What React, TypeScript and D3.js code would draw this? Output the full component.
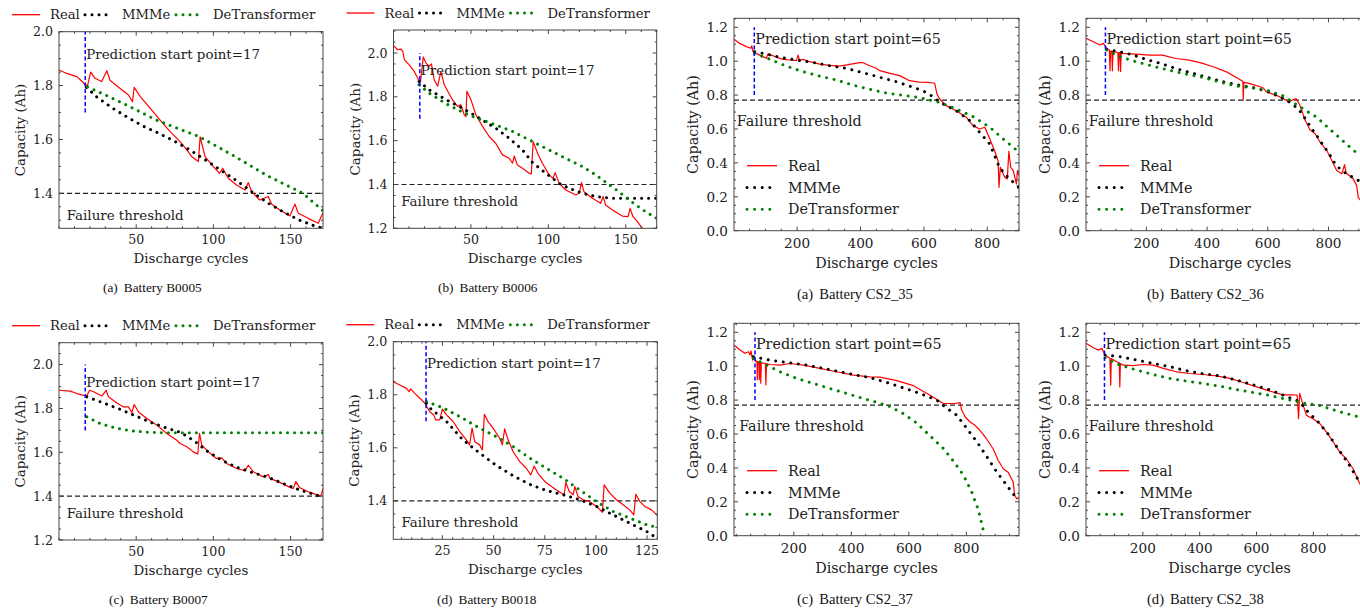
import React from 'react';
import * as d3 from 'd3';

type Pt = [number, number];

// ---- NASA batteries (cycle, capacity Ah) ----
const b0005Real: Pt[] = [[0,1.858],[5,1.845],[11.6,1.833],[15,1.815],[17,1.803],[18.5,1.80],[20.5,1.85],[23.3,1.827],[27.6,1.815],[31,1.855],[33,1.82],[39.4,1.79],[45,1.765],[47.6,1.74],[48.7,1.793],[52.6,1.759],[59,1.716],[65.5,1.672],[72,1.629],[78.4,1.592],[82.8,1.561],[86,1.536],[90.3,1.518],[91.4,1.61],[94.6,1.536],[100,1.499],[104,1.474],[106,1.493],[109.7,1.456],[115,1.431],[120.5,1.412],[122.6,1.44],[124.8,1.406],[130,1.375],[135.5,1.388],[137.7,1.36],[143,1.338],[149.6,1.316],[152.8,1.36],[155,1.326],[161.4,1.307],[167.9,1.289],[171,1.328]];
const b0005Mmme: Pt[] = [[17.7,1.793],[25,1.755],[35,1.715],[45,1.68],[55,1.648],[65,1.622],[75,1.593],[85,1.56],[95,1.523],[105,1.485],[115,1.447],[125,1.405],[135,1.365],[145,1.332],[155,1.302],[165,1.28],[171,1.27]];
const b0005Detr: Pt[] = [[18.5,1.795],[30,1.765],[40,1.738],[50,1.71],[63,1.672],[75,1.645],[91,1.61],[113,1.54],[135,1.465],[158,1.40],[171,1.335]];

const b0006Real: Pt[] = [[0,2.034],[2.7,2.015],[4.8,2.018],[6,2.008],[7,1.97],[10,1.947],[13.4,1.916],[16.2,1.878],[17.5,1.87],[19.2,1.982],[21,1.954],[23,1.94],[24.5,1.95],[26.3,1.878],[28.5,1.848],[30.6,1.916],[32.8,1.855],[38,1.787],[41.4,1.756],[43.5,1.764],[45.7,1.718],[46.8,1.71],[47.4,1.825],[50,1.787],[53.2,1.718],[57.5,1.665],[61.8,1.619],[66,1.588],[70.4,1.535],[74.7,1.52],[76.9,1.497],[78,1.53],[80,1.489],[83.3,1.474],[87.6,1.451],[89,1.448],[90.2,1.596],[93,1.543],[96.2,1.497],[100.5,1.444],[103,1.428],[104.4,1.454],[107,1.405],[111.3,1.375],[117.7,1.352],[120,1.36],[121.4,1.409],[123,1.367],[128.5,1.337],[133.8,1.314],[135.4,1.345],[137,1.306],[141.4,1.284],[147.8,1.256],[151.5,1.253],[152.8,1.291],[154.7,1.253],[157.5,1.23],[160.8,1.2],[163,1.18]];
const b0006Mmme: Pt[] = [[16.5,1.87],[23,1.832],[34,1.787],[44.6,1.748],[55.4,1.703],[66,1.657],[74.7,1.611],[83.3,1.558],[89.8,1.50],[98.4,1.451],[107,1.405],[113.4,1.383],[122,1.36],[130.6,1.345],[141.4,1.337],[152,1.337],[170,1.337]];
const b0006Detr: Pt[] = [[16.5,1.855],[23,1.817],[34,1.768],[44.6,1.73],[53,1.705],[66,1.672],[76.9,1.642],[87.6,1.604],[98.4,1.565],[109,1.527],[122,1.482],[130.6,1.444],[139,1.40],[145.6,1.367],[152,1.33],[160.8,1.285],[170,1.245]];

const b0007Real: Pt[] = [[0,1.883],[7.3,1.879],[11.6,1.868],[16,1.86],[18,1.857],[19.8,1.883],[22.4,1.876],[27.8,1.857],[30.6,1.883],[32,1.853],[37.5,1.825],[41.8,1.807],[45,1.807],[47.2,1.781],[48.7,1.818],[51.5,1.784],[56.9,1.754],[63.4,1.724],[69.8,1.686],[76.3,1.655],[78.4,1.64],[82.8,1.625],[87,1.602],[89.9,1.592],[91,1.686],[92.5,1.633],[96.8,1.602],[102,1.572],[105.4,1.575],[108.6,1.549],[115,1.526],[120.5,1.516],[122.6,1.541],[125.9,1.511],[132.3,1.488],[135.6,1.499],[136.6,1.481],[143,1.463],[149.6,1.44],[151.7,1.435],[153.4,1.466],[156,1.438],[162.5,1.417],[167.9,1.405],[169.6,1.40],[171,1.435]];
const b0007Mmme: Pt[] = [[18,1.853],[30,1.822],[40,1.795],[50,1.765],[60,1.735],[70,1.71],[79,1.69],[88,1.65],[96,1.605],[105,1.565],[115,1.532],[125,1.508],[135,1.487],[145,1.458],[156,1.428],[169,1.40]];
const b0007Detr: Pt[] = [[18,1.762],[26.7,1.731],[37.5,1.709],[48.3,1.697],[59,1.691],[70,1.689],[171,1.689]];

const b0018Real: Pt[] = [[1,1.849],[4.2,1.837],[7.4,1.824],[8.7,1.812],[9.5,1.822],[11.5,1.805],[14,1.787],[16.4,1.768],[18.8,1.736],[20.8,1.724],[21.7,1.705],[23.7,1.705],[25,1.746],[27,1.724],[30.2,1.699],[33.5,1.661],[36.7,1.63],[38.3,1.611],[39.5,1.674],[40.8,1.623],[43.2,1.611],[44.5,1.592],[45.5,1.726],[47.3,1.699],[49.7,1.674],[53,1.636],[54.3,1.611],[55.4,1.671],[57.1,1.63],[59.5,1.586],[62.8,1.548],[66,1.523],[68.2,1.498],[69.8,1.531],[71.7,1.504],[75,1.473],[78.3,1.454],[80.7,1.441],[83.2,1.429],[84.5,1.423],[85.3,1.469],[87,1.435],[88.9,1.423],[89.7,1.454],[91.3,1.416],[93.7,1.404],[97,1.397],[100.3,1.379],[103.2,1.357],[104,1.46],[106.8,1.429],[110,1.404],[113.3,1.385],[116.5,1.366],[118.5,1.347],[119.5,1.425],[121.5,1.397],[123.9,1.379],[127.2,1.366],[130,1.345]];
const b0018Mmme: Pt[] = [[17.2,1.768],[19,1.749],[27,1.699],[35,1.63],[43.2,1.58],[51.4,1.533],[59.5,1.495],[67.7,1.462],[75.8,1.439],[84,1.423],[92.1,1.404],[100.3,1.379],[108.4,1.347],[116.5,1.316],[124.7,1.285],[130,1.258]];
const b0018Detr: Pt[] = [[17.2,1.774],[25.3,1.751],[35,1.711],[43.2,1.674],[51.4,1.642],[59.5,1.605],[67.7,1.561],[75.8,1.523],[84,1.485],[92.1,1.441],[100.3,1.397],[108.4,1.36],[116.5,1.335],[124.7,1.31],[130,1.30]];

// ---- CALCE batteries ----
const cs35Real: Pt[] = [[1,1.129],[19,1.105],[40,1.086],[54,1.076],[57,1.091],[61,1.056],[71,1.046],[92,1.027],[103,1.017],[108,1.042],[114,1.04],[135,1.023],[156,1.011],[177,1.007],[198,1.003],[203,1.036],[208,1.005],[219,1.011],[240,0.997],[271,0.983],[303,0.975],[334,0.971],[366,0.981],[397,0.991],[408,0.991],[429,0.973],[450,0.958],[461,0.944],[490,0.93],[524,0.915],[555,0.885],[585,0.877],[613,0.875],[634,0.87],[641,0.807],[650,0.777],[670,0.738],[702,0.708],[734,0.669],[755,0.62],[776,0.60],[792,0.61],[808,0.541],[823,0.472],[834,0.413],[837,0.256],[841,0.374],[855,0.315],[863,0.305],[868,0.468],[874,0.374],[882,0.354],[892,0.275],[895,0.354],[900,0.325]];
const cs35Mmme: Pt[] = [[66,1.056],[103,1.042],[145,1.023],[198,1.007],[250,0.993],[303,0.973],[355,0.958],[408,0.932],[461,0.905],[513,0.879],[555,0.853],[597,0.826],[632,0.787],[650,0.757],[671,0.738],[702,0.708],[745,0.649],[776,0.58],[808,0.511],[834,0.393],[850,0.344],[871,0.305],[900,0.256]];
const cs35Detr: Pt[] = [[66,1.046],[114,1.011],[166,0.971],[219,0.938],[271,0.912],[324,0.889],[376,0.859],[429,0.834],[482,0.812],[530,0.80],[587,0.785],[650,0.757],[702,0.718],[755,0.673],[808,0.61],[850,0.541],[882,0.492],[900,0.462]];

const cs36Real: Pt[] = [[1,1.135],[25,1.115],[47,1.095],[58,1.105],[69,1.076],[78,1.066],[80,0.943],[82,1.06],[86,1.06],[88,0.943],[90,1.058],[106,1.05],[108,0.943],[110,1.05],[113,1.05],[115,0.94],[117,1.048],[121,1.046],[165,1.042],[209,1.036],[253,1.036],[297,1.016],[341,1.006],[380,0.99],[420,0.967],[464,0.937],[508,0.892],[518,0.88],[519,0.77],[521,0.875],[541,0.868],[583,0.845],[596,0.819],[627,0.80],[651,0.78],[668,0.76],[693,0.78],[706,0.74],[723,0.651],[739,0.595],[756,0.572],[772,0.523],[794,0.474],[811,0.414],[827,0.355],[844,0.336],[853,0.39],[858,0.34],[880,0.31],[893,0.266],[898,0.197],[905,0.18]];
const cs36Mmme: Pt[] = [[69,1.07],[100,1.06],[150,1.04],[200,1.01],[250,0.985],[300,0.955],[350,0.93],[400,0.905],[450,0.88],[500,0.86],[550,0.845],[600,0.82],[640,0.79],[670,0.76],[700,0.72],[720,0.67],[740,0.615],[760,0.565],[780,0.51],[800,0.46],[820,0.40],[840,0.36],[860,0.335],[880,0.315],[905,0.29]];
const cs36Detr: Pt[] = [[69,1.066],[113,1.026],[165,0.997],[220,0.971],[275,0.947],[330,0.924],[385,0.905],[440,0.878],[495,0.853],[541,0.845],[596,0.829],[651,0.795],[706,0.73],[760,0.671],[810,0.59],[860,0.51],[905,0.44]];

const cs37Real: Pt[] = [[-8,1.125],[13,1.095],[30,1.076],[42,1.085],[48,1.066],[51,1.09],[57,1.036],[62,1.056],[68,1.026],[72,1.03],[73,0.92],[75,1.025],[79,1.025],[80,0.92],[82,1.02],[84,1.02],[85,0.90],[87,1.02],[101,1.015],[103,0.89],[105,1.015],[117,1.01],[152,1.006],[187,1.016],[233,1.006],[291,0.987],[349,0.967],[407,0.947],[465,0.937],[500,0.935],[558,0.915],[616,0.885],[674,0.829],[720,0.78],[761,0.78],[778,0.785],[784,0.74],[796,0.70],[813,0.671],[830,0.651],[847,0.622],[870,0.572],[893,0.513],[911,0.444],[928,0.395],[945,0.375],[957,0.336],[963,0.316],[968,0.237],[976,0.217],[983,0.227]];
const cs37Mmme: Pt[] = [[59,1.056],[117,1.036],[175,1.022],[233,1.01],[291,0.991],[349,0.971],[407,0.951],[465,0.932],[523,0.904],[581,0.872],[639,0.839],[697,0.80],[732,0.752],[767,0.71],[802,0.632],[837,0.553],[872,0.464],[906,0.375],[941,0.296],[976,0.217]];
const cs37Detr: Pt[] = [[59,1.046],[106,1.006],[152,0.967],[210,0.928],[268,0.898],[326,0.868],[384,0.839],[442,0.809],[488,0.787],[534,0.762],[581,0.72],[627,0.665],[673,0.59],[720,0.515],[755,0.44],[789,0.36],[818,0.26],[842,0.15],[855,0.06],[863,0.0]];

const cs38Real: Pt[] = [[0,1.135],[26,1.109],[44,1.095],[55.6,1.105],[67,1.066],[84,1.046],[87,0.888],[89,1.045],[108,1.026],[117,1.02],[119,0.878],[121,1.015],[131,1.006],[166,1.003],[201,1.01],[236,1.006],[272,0.987],[319,0.967],[365,0.957],[412,0.951],[459,0.943],[506,0.928],[553,0.904],[600,0.878],[647,0.853],[693,0.831],[729,0.831],[743,0.83],[748,0.69],[752,0.84],[764,0.77],[776,0.71],[799,0.69],[823,0.661],[846,0.612],[870,0.553],[893,0.493],[916,0.454],[940,0.395],[961,0.316],[970,0.29]];
const cs38Mmme: Pt[] = [[67,1.066],[120,1.056],[178,1.036],[236,1.016],[295,0.997],[354,0.973],[412,0.955],[471,0.943],[529,0.918],[588,0.89],[647,0.86],[705,0.822],[752,0.79],[781,0.73],[817,0.671],[852,0.60],[887,0.513],[922,0.43],[952,0.345],[970,0.3]];
const cs38Detr: Pt[] = [[67,1.05],[120,1.006],[178,0.977],[236,0.951],[295,0.928],[354,0.912],[412,0.898],[471,0.882],[529,0.862],[588,0.845],[647,0.827],[705,0.805],[764,0.783],[822,0.768],[881,0.737],[940,0.71],[970,0.696]];

const seriesNames = ['Real', 'MMMe', 'DeTransformer'];
const nasaYTicksA = [1.4, 1.6, 1.8, 2.0];
const nasaYTicksB = [1.2, 1.4, 1.6, 1.8, 2.0];
const nasaXTicks = [50, 100, 150];
const b0018XTicks = [25, 50, 75, 100, 125];
const calceXTicks = [200, 400, 600, 800];
const calceYTicks = [0, 0.2, 0.4, 0.6, 0.8, 1.0, 1.2];

type Side = 'left' | 'right';
interface Spec {
  left: number; top: number; width: number; height: number;
  xDomain: [number, number]; yDomain: [number, number];
  xTicks: number[]; xMinor: number; yTicks: number[]; yMinor: number;
  real: Pt[]; mmme: Pt[]; detr: Pt[];
  start: number; vspan: [number, number]; startY: number;
  threshold: number; thrText: Pt;
  side: Side; tag: string; name: string; capX: number; capY: number;
}

const specs: Spec[] = [
  { left: 59, top: 31.7, width: 264, height: 196.6, xDomain: [0, 171], yDomain: [1.27, 2.0], xTicks: nasaXTicks, xMinor: 10, yTicks: nasaYTicksA, yMinor: 0.05,
    real: b0005Real, mmme: b0005Mmme, detr: b0005Detr, start: 17, vspan: [1.7, 2.0], startY: 1.9, threshold: 1.4, thrText: [5, 1.3],
    side: 'left', tag: '(a)', name: 'Battery B0005', capX: 103, capY: 287 },
  { left: 393.5, top: 30, width: 263.2, height: 198.3, xDomain: [0, 170], yDomain: [1.2, 2.105], xTicks: nasaXTicks, xMinor: 10, yTicks: nasaYTicksB, yMinor: 0.05,
    real: b0006Real, mmme: b0006Mmme, detr: b0006Detr, start: 17, vspan: [1.7, 2.0], startY: 1.9, threshold: 1.4, thrText: [5, 1.3],
    side: 'left', tag: '(b)', name: 'Battery B0006', capX: 438, capY: 287 },
  { left: 59, top: 342.7, width: 264, height: 197.3, xDomain: [0, 171], yDomain: [1.2, 2.1], xTicks: nasaXTicks, xMinor: 10, yTicks: nasaYTicksB, yMinor: 0.05,
    real: b0007Real, mmme: b0007Mmme, detr: b0007Detr, start: 17, vspan: [1.7, 2.0], startY: 1.9, threshold: 1.4, thrText: [5, 1.3],
    side: 'left', tag: '(c)', name: 'Battery B0007', capX: 109, capY: 599 },
  { left: 393.3, top: 341.7, width: 264, height: 197.6, xDomain: [1, 130], yDomain: [1.255, 2.0], xTicks: b0018XTicks, xMinor: 5, yTicks: nasaYTicksA, yMinor: 0.05,
    real: b0018Real, mmme: b0018Mmme, detr: b0018Detr, start: 17, vspan: [1.7, 2.0], startY: 1.9, threshold: 1.4, thrText: [5, 1.3],
    side: 'left', tag: '(d)', name: 'Battery B0018', capX: 437, capY: 599 },
  { left: 734, top: 18.3, width: 285, height: 212.4, xDomain: [1, 900], yDomain: [0, 1.253], xTicks: calceXTicks, xMinor: 50, yTicks: calceYTicks, yMinor: 0.05,
    real: cs35Real, mmme: cs35Mmme, detr: cs35Detr, start: 65, vspan: [0.8, 1.2], startY: 1.1, threshold: 0.77, thrText: [10, 0.62],
    side: 'right', tag: '(a)', name: 'Battery CS2_35', capX: 797, capY: 294 },
  { left: 1086, top: 18.3, width: 288, height: 212.4, xDomain: [1, 950], yDomain: [0, 1.253], xTicks: calceXTicks, xMinor: 50, yTicks: calceYTicks, yMinor: 0.05,
    real: cs36Real, mmme: cs36Mmme, detr: cs36Detr, start: 65, vspan: [0.8, 1.2], startY: 1.1, threshold: 0.77, thrText: [10, 0.62],
    side: 'right', tag: '(b)', name: 'Battery CS2_36', capX: 1147, capY: 294 },
  { left: 734, top: 323.3, width: 285, height: 212.4, xDomain: [-8, 983], yDomain: [0, 1.253], xTicks: calceXTicks, xMinor: 50, yTicks: calceYTicks, yMinor: 0.05,
    real: cs37Real, mmme: cs37Mmme, detr: cs37Detr, start: 65, vspan: [0.8, 1.2], startY: 1.1, threshold: 0.77, thrText: [10, 0.62],
    side: 'right', tag: '(c)', name: 'Battery CS2_37', capX: 797, capY: 599 },
  { left: 1086, top: 323.3, width: 287, height: 212.4, xDomain: [0, 1010], yDomain: [0, 1.253], xTicks: calceXTicks, xMinor: 50, yTicks: calceYTicks, yMinor: 0.05,
    real: cs38Real, mmme: cs38Mmme, detr: cs38Detr, start: 65, vspan: [0.8, 1.2], startY: 1.1, threshold: 0.77, thrText: [10, 0.62],
    side: 'right', tag: '(d)', name: 'Battery CS2_38', capX: 1147, capY: 599 },
];

const SERIF = '"DejaVu Serif", serif';
const CAPTION = '"Liberation Serif", "Times New Roman", serif';

function minorTicks(domain: [number, number], step: number, major: number[]) {
  const out: number[] = [];
  for (let v = Math.ceil(domain[0] / step) * step; v <= domain[1] + 1e-9; v += step) {
    const r = Math.round(v * 1000) / 1000;
    if (!major.some(m => Math.abs(m - r) < 1e-6)) out.push(r);
  }
  return out;
}

function Panel({ s, idx }: { s: Spec; idx: number }) {
  const x = d3.scaleLinear().domain(s.xDomain).range([s.left, s.left + s.width]);
  const y = d3.scaleLinear().domain(s.yDomain).range([s.top + s.height, s.top]);
  const line = d3.line<Pt>().x(d => x(d[0])).y(d => y(d[1]));
  const L = s.side === 'left';
  const fsTick = L ? 12.6 : 13.6;
  const fsLabel = L ? 13.4 : 14.3;
  const fsLeg = L ? 13.2 : 14.3;
  const fsCap = L ? 13.3 : 14.6;
  const dotGap = L ? 7 : 7.6;
  const bottom = s.top + s.height;
  const right = s.left + s.width;
  const xMaj = s.xTicks.filter(v => v >= s.xDomain[0] && v <= s.xDomain[1]);
  const yMaj = s.yTicks.filter(v => v >= s.yDomain[0] - 1e-9 && v <= s.yDomain[1] + 1e-9);
  const xMin = minorTicks(s.xDomain, s.xMinor, xMaj);
  const yMin = minorTicks(s.yDomain, s.yMinor, yMaj);
  const tc = '#444';
  const clip = `clip-${idx}`;
  const styles = [
    { stroke: '#ff0000', width: 1.2, dash: undefined as string | undefined, cap: 'butt' as const },
    { stroke: '#000000', width: 3, dash: `0.01 ${dotGap}`, cap: 'round' as const },
    { stroke: '#008000', width: 3, dash: `0.01 ${dotGap}`, cap: 'round' as const },
  ];
  const data = [s.real, s.mmme, s.detr];
  const fmtY = d3.format('.1f');

  const legendItems = L
    ? [
        { lx0: s.left - 47, lx1: s.left - 19, tx: s.left - 9, ly: s.top - 17 },
        { lx0: s.left + 26, lx1: s.left + 49, tx: s.left + 63, ly: s.top - 17 },
        { lx0: s.left + 117, lx1: s.left + 141, tx: s.left + 154, ly: s.top - 17 },
      ]
    : [0, 1, 2].map(i => ({ lx0: s.left + 13, lx1: s.left + 43, tx: s.left + 54, ly: s.top + 147.4 + i * 21.8 }));

  return (
    <g>
      <defs>
        <clipPath id={clip}>
          <rect x={s.left} y={s.top} width={s.width} height={s.height} />
        </clipPath>
      </defs>
      <g clipPath={`url(#${clip})`}>
        <line x1={s.left} x2={right} y1={y(s.threshold)} y2={y(s.threshold)} stroke="#222" strokeWidth={1.2} strokeDasharray="5 3" />
        {data.map((d, i) => (
          <path key={i} d={line(d) || ''} fill="none" stroke={styles[i].stroke} strokeWidth={styles[i].width}
            strokeDasharray={styles[i].dash} strokeLinecap={styles[i].cap} strokeLinejoin="round" />
        ))}
        <line x1={x(s.start)} x2={x(s.start)} y1={y(s.vspan[0])} y2={y(s.vspan[1])} stroke="#0000ff" strokeWidth={1.5} strokeDasharray="4 2.5" />
      </g>
      <text x={x(s.start) + 1} y={y(s.startY)} fontFamily={SERIF} fontSize={fsLabel} fill="#222">
        Prediction start point={s.start}
      </text>
      <text x={x(s.thrText[0])} y={y(s.thrText[1])} fontFamily={SERIF} fontSize={fsLabel} fill="#222">
        Failure threshold
      </text>
      <rect x={s.left} y={s.top} width={s.width} height={s.height} fill="none" stroke={tc} strokeWidth={1} />
      {xMaj.map(v => (
        <g key={'xm' + v}>
          <line x1={x(v)} x2={x(v)} y1={bottom} y2={bottom - 4} stroke={tc} />
          <line x1={x(v)} x2={x(v)} y1={s.top} y2={s.top + 4} stroke={tc} />
          <text x={x(v)} y={bottom + (L ? 11 : 12)} textAnchor="middle" dominantBaseline="central" fontFamily={SERIF} fontSize={fsTick} fill="#222">{v}</text>
        </g>
      ))}
      {xMin.map(v => (
        <g key={'xn' + v}>
          <line x1={x(v)} x2={x(v)} y1={bottom} y2={bottom - 2} stroke={tc} />
          <line x1={x(v)} x2={x(v)} y1={s.top} y2={s.top + 2} stroke={tc} />
        </g>
      ))}
      {yMaj.map(v => (
        <g key={'ym' + v}>
          <line x1={s.left} x2={s.left + 4} y1={y(v)} y2={y(v)} stroke={tc} />
          <line x1={right} x2={right - 4} y1={y(v)} y2={y(v)} stroke={tc} />
          <text x={s.left - 6} y={y(v)} textAnchor="end" dominantBaseline="central" fontFamily={SERIF} fontSize={fsTick} fill="#222">{fmtY(v)}</text>
        </g>
      ))}
      {yMin.map(v => (
        <g key={'yn' + v}>
          <line x1={s.left} x2={s.left + 2} y1={y(v)} y2={y(v)} stroke={tc} />
          <line x1={right} x2={right - 2} y1={y(v)} y2={y(v)} stroke={tc} />
        </g>
      ))}
      <text x={(s.left + right) / 2} y={bottom + (L ? 30 : 32.6)} textAnchor="middle" dominantBaseline="central" fontFamily={SERIF} fontSize={fsLabel} fill="#222">
        Discharge cycles
      </text>
      <text transform={`translate(${s.left - (L ? 38.5 : 41)},${(s.top + bottom) / 2}) rotate(-90)`} textAnchor="middle" dominantBaseline="central" fontFamily={SERIF} fontSize={fsLabel} fill="#222">
        Capacity (Ah)
      </text>
      {legendItems.map((it, i) => (
        <g key={'lg' + i}>
          <line x1={it.lx0} x2={it.lx1} y1={it.ly} y2={it.ly} stroke={styles[i].stroke} strokeWidth={i === 0 ? 1.3 : 3}
            strokeDasharray={styles[i].dash} strokeLinecap={styles[i].cap} />
          <text x={it.tx} y={it.ly} dominantBaseline="central" fontFamily={SERIF} fontSize={fsLeg} fill="#222">{seriesNames[i]}</text>
        </g>
      ))}
      <text x={s.capX} y={s.capY} dominantBaseline="central" fontFamily={CAPTION} fontSize={fsCap} fill="#111">
        {s.tag}
        <tspan dx={6}>{s.name}</tspan>
      </text>
    </g>
  );
}

export default function App() {
  return (
    <svg width={1360} height={608} style={{ position: 'absolute', left: 0, top: 0, background: '#fff' }}>
      <rect width={1360} height={608} fill="#fff" />
      {specs.map((s, i) => (
        <Panel key={i} s={s} idx={i} />
      ))}
    </svg>
  );
}
